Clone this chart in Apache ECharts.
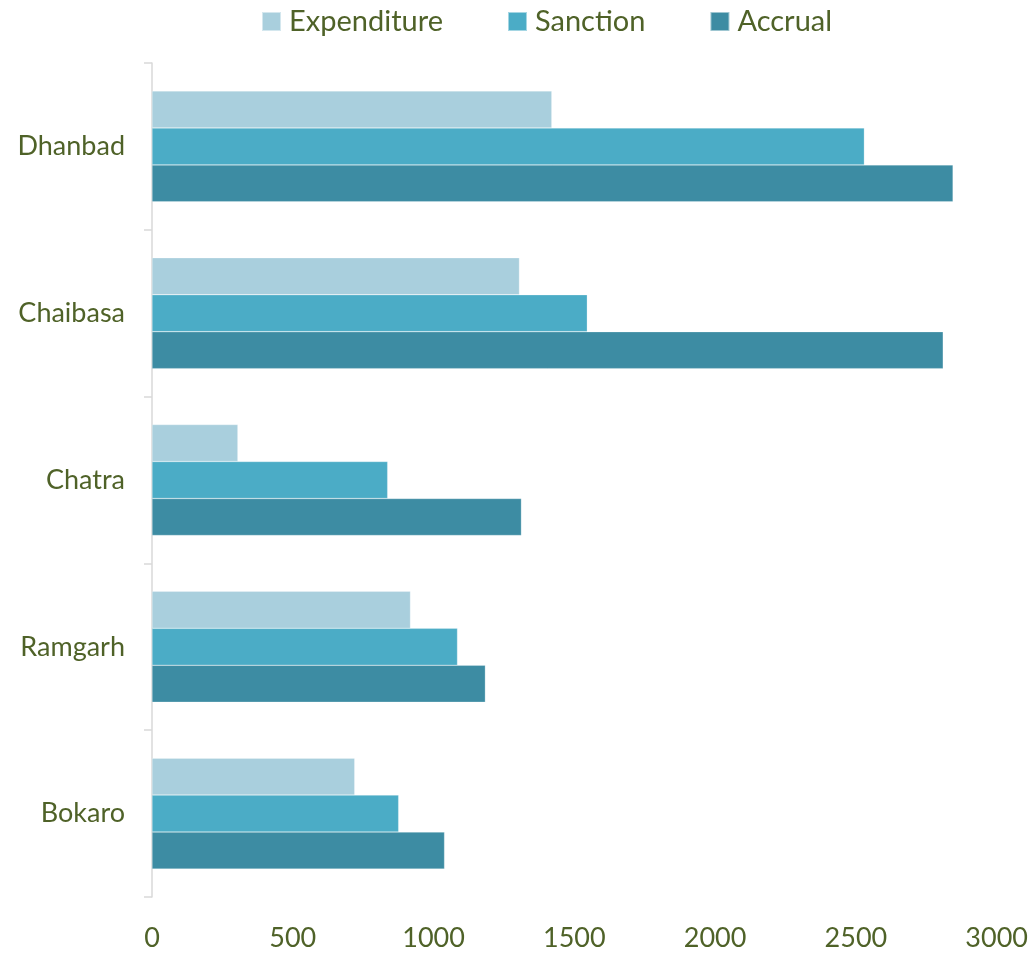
<!DOCTYPE html>
<html>
<head>
<meta charset="utf-8">
<script src="https://cdn.jsdelivr.net/npm/echarts@6/dist/echarts.min.js"></script>
<style>
  html, body { margin: 0; padding: 0; background: #fff; }
  #myChart { width: 1031px; height: 954px; }
</style>
</head>
<body>
<div id="myChart"></div>
<script>
// categories bottom -> top
var districts = ['Bokaro', 'Ramgarh', 'Chatra', 'Chaibasa', 'Dhanbad'];
var expenditure = [720, 918, 305, 1305, 1420];
var sanction = [876, 1085, 837, 1546, 2530];
var accrual = [1039, 1184, 1312, 2810, 2845];
var xTicks = [0, 500, 1000, 1500, 2000, 2500, 3000];

var txt = '#4F6228';
var fontFam = 'Lato, "Open Sans", sans-serif';

var myChart = echarts.init(document.getElementById('myChart'));

myChart.setOption({
  backgroundColor: '#fff',
  color: ['#A9CFDD', '#4BACC6', '#3D8CA3'],
  textStyle: { fontFamily: fontFam },
  legend: {
    top: 2,
    left: 256,
    itemWidth: 19,
    itemHeight: 19,
    itemGap: 64,
    icon: 'rect',
    textStyle: { color: txt, fontSize: 29, fontFamily: fontFam, padding: [0, 0, 0, 3] },
    data: ['Expenditure', 'Sanction', 'Accrual']
  },
  grid: { left: 152, right: 33, top: 63, bottom: 57 },
  xAxis: {
    type: 'value',
    min: xTicks[0],
    max: xTicks[xTicks.length - 1],
    interval: 500,
    axisLine: { show: false },
    axisTick: { show: false },
    splitLine: { show: false },
    axisLabel: { color: txt, fontSize: 27, margin: 28, fontFamily: fontFam,
      formatter: function (v) { return String(v); } }
  },
  yAxis: {
    type: 'category',
    data: districts,
    axisLine: { show: true, lineStyle: { color: '#D9D9D9', width: 1.5 } },
    axisTick: { show: true, length: 8, lineStyle: { color: '#D9D9D9', width: 1.5 } },
    axisLabel: { color: txt, fontSize: 27, margin: 27, fontFamily: fontFam }
  },
  series: [
    {
      name: 'Expenditure', type: 'bar', data: expenditure,
      barCategoryGap: '33.5%', barGap: 0,
      itemStyle: { color: '#A9CFDD', borderColor: 'rgba(255,255,255,0.5)', borderWidth: 0.5 }
    },
    {
      name: 'Sanction', type: 'bar', data: sanction,
      itemStyle: { color: '#4BACC6', borderColor: 'rgba(255,255,255,0.5)', borderWidth: 0.5 }
    },
    {
      name: 'Accrual', type: 'bar', data: accrual,
      itemStyle: { color: '#3D8CA3', borderColor: 'rgba(255,255,255,0.5)', borderWidth: 0.5 }
    }
  ]
});
</script>
</body>
</html>
